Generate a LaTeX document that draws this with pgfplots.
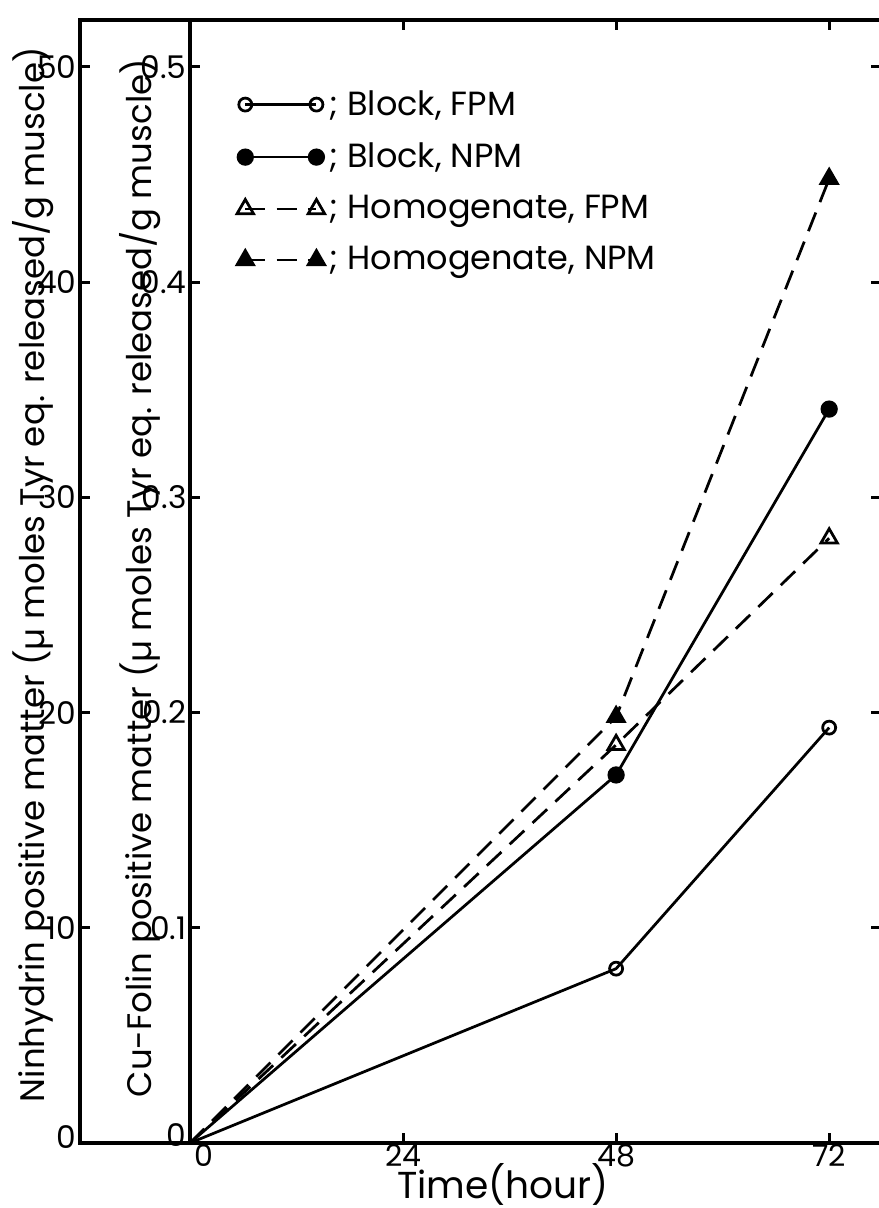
\documentclass[border=0pt]{standalone}
\usepackage{fontspec}
\setmainfont{Poppins}
\usepackage{pgfplots}
\pgfplotsset{compat=1.18}

\begin{document}
\begin{tikzpicture}
% outer axis: ninhydrin scale, carries the time axis
\begin{axis}[
    scale only axis,
    width=320.4pt, height=449.2pt,
    at={(0pt,0pt)}, anchor=south west,
    xmin=-12.4, xmax=77.84,
    ymin=0, ymax=52.18,
    xtick={0,24,48,72},
    xticklabels={\hspace*{11pt}0,24,48,72},
    xtick pos=both, xticklabel pos=bottom,
    ytick={0,10,20,30,40,50},
    yticklabels={\raisebox{5pt}{0},10,20,30,40,50},
    ytick pos=both, yticklabel pos=left,
    tick align=inside,
    major tick length=4pt,
    axis line style={line width=1.6pt},
    every tick/.style={black, line width=1.2pt},
    ticklabel style={font=\fontsize{12.5}{13}\selectfont},
    yticklabel style={inner sep=0pt, xshift=-1.2pt},
    xticklabel style={inner sep=0pt, yshift=-0.3pt, font=\fontsize{12}{13}\selectfont},
    xlabel={Time(hour)},
    xlabel style={at={(axis description cs:0.528,-0.0492)}, anchor=base,
        inner sep=0pt, font=\fontsize{15}{16}\selectfont},
    ylabel={Ninhydrin positive matter (µ moles Tyr eq. released/g muscle)},
    ylabel style={at={(axis description cs:-0.058,0.506)}, anchor=center,
        font=\fontsize{13.6}{14}\selectfont},
]
\end{axis}

% inner axis: Cu-Folin scale, holds the data
\begin{axis}[
    scale only axis,
    width=276.4pt, height=449.2pt,
    at={(44pt,0pt)}, anchor=south west,
    xmin=0, xmax=77.84,
    ymin=0, ymax=0.5218,
    axis x line=none,
    axis y line*=left,
    axis line style={-, line width=1.6pt},
    ytick={0,0.1,0.2,0.3,0.4,0.5},
    yticklabels={\raisebox{6pt}{0},0.1,0.2,0.3,0.4,0.5},
    tick align=inside,
    major tick length=4pt,
    every tick/.style={black, line width=1.2pt},
    ticklabel style={font=\fontsize{12.5}{13}\selectfont},
    yticklabel style={inner sep=0pt, xshift=-1.2pt},
    ylabel={Cu-Folin positive matter (µ moles Tyr eq. released/g muscle)},
    ylabel style={at={(axis description cs:-0.0727,0.503)}, anchor=center,
        font=\fontsize{13.6}{14}\selectfont},
    legend image code/.code={\draw[#1, mark phase=1, mark repeat=1]
        plot coordinates {(0cm,0cm) (1.0cm,0cm)};},
    legend style={at={(axis cs:4.4,0.494)}, anchor=north west,
        draw=none, fill=none, row sep=5.6pt,
        font=\fontsize{13.4}{14}\selectfont},
    legend cell align=left,
]
\addplot[black, line width=1.1pt, mark=o, mark size=2.6pt,
    mark phase=2, mark options={fill=white}]
    coordinates {(0,0) (48,0.081) (72,0.193)};
\addlegendentry{; Block, FPM}
\addplot[black, line width=1.1pt, mark=*, mark size=2.9pt,
    mark phase=2]
    coordinates {(0,0) (48,0.171) (72,0.341)};
\addlegendentry{; Block, NPM}
\addplot[black, line width=1.1pt, dash pattern=on 8pt off 4.5pt,
    mark=triangle, mark size=3.8pt, mark phase=2,
    mark options={solid, fill=white}]
    coordinates {(0,0) (48,0.185) (72,0.281)};
\addlegendentry{; Homogenate, FPM}
\addplot[black, line width=1.1pt, dash pattern=on 8pt off 4.5pt,
    mark=triangle*, mark size=3.8pt, mark phase=2,
    mark options={solid}]
    coordinates {(0,0) (48,0.198) (72,0.448)};
\addlegendentry{; Homogenate, NPM}
\end{axis}

\pgfresetboundingbox
\path (-32pt,-26pt) rectangle (319.2pt,457.2pt);
\end{tikzpicture}
\end{document}
